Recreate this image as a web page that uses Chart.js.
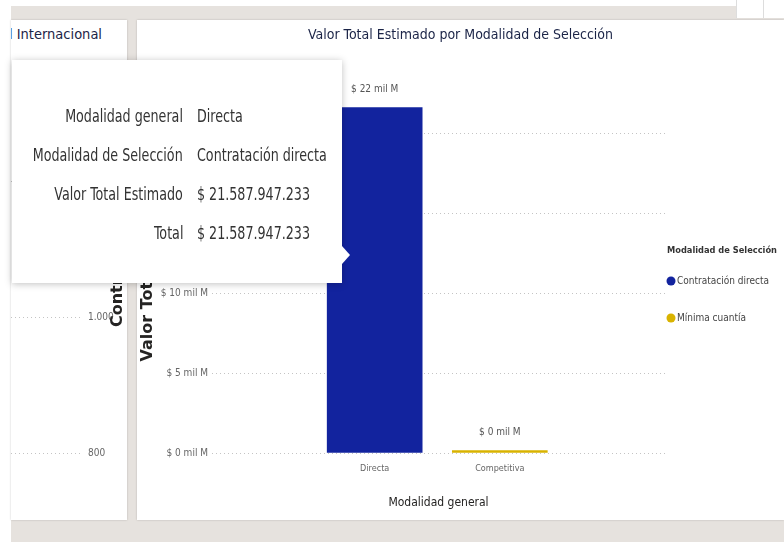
<!DOCTYPE html>
<html>
<head>
<meta charset="utf-8">
<script src="https://cdn.jsdelivr.net/npm/chart.js@4.4.1/dist/chart.umd.min.js"></script>
<style>
  body { margin: 0; width: 784px; height: 558px; background: #fff; position: relative; overflow: hidden;
         font-family: 'Liberation Sans Narrow', 'DejaVu Sans Condensed', sans-serif; }
  .band { position: absolute; left: 11px; top: 6px; width: 773px; height: 536px; background: #e6e2de; }
  .corner { position: absolute; left: 736px; top: 0; width: 48px; height: 18px; background: #fff; border-left: 1px solid #ddd; }
  .corner:after { content: ''; position: absolute; left: 26px; top: 0; width: 1px; height: 18px; background: #ddd; }
  .panel { position: absolute; background: #fff; box-shadow: 0 0 2px rgba(0,0,0,0.2); }
  #leftPanel { left: 11px; top: 20px; width: 116px; height: 500px; overflow: hidden; }
  #mainPanel { left: 137px; top: 20px; width: 647px; height: 500px; }
  #leftTitle { position: absolute; right: 25px; top: 6px; white-space: nowrap; font-size: 14.5px; color: #1b2447; }
  canvas { position: absolute; left: 0; top: 0; }
  #tip { position: absolute; left: 12px; top: 60px; width: 330px; height: 223px; background: #fff;
         box-shadow: 0 1px 7px rgba(0,0,0,0.25); color: #333; font-size: 17px; }
  #tip:after { content: ''; position: absolute; left: 330px; top: 186px; border-left: 8px solid #fff;
               border-top: 9px solid transparent; border-bottom: 9px solid transparent; }
  #tip .row { position: absolute; left: 0; width: 330px; height: 39px; line-height: 39px; white-space: nowrap; }
  #tip .k { position: absolute; right: 159px; transform: scaleX(0.83); transform-origin: right center; }
  #tip .v { position: absolute; left: 185px; transform: scaleX(0.83); transform-origin: left center; }
</style>
</head>
<body>
<div class="band"></div>
<div class="corner"></div>
<div class="panel" id="leftPanel">
  <div id="leftTitle"></div>
  <canvas id="leftChart" width="116" height="500"></canvas>
</div>
<div class="panel" id="mainPanel">
  <canvas id="mainChart" width="647" height="500"></canvas>
</div>
<div id="tip"></div>
<script>
// valores en miles de millones de pesos (mil M)
const categories = ['Directa', 'Competitiva'];
const seriesNames = ['Contratación directa', 'Mínima cuantía'];
const contratacionDirecta = [21.587947233, null];
const minimaCuantia = [null, 0.15];
const yTicks = [0, 5, 10, 15, 20];
const seriesColors = ['#12239E', '#D9B300'];

const chartTitle = 'Valor Total Estimado por Modalidad de Selección';
const xTitle = 'Modalidad general';
const yTitle = 'Valor Total Estimado';
const legendTitle = 'Modalidad de Selección';
const tooltipFields = ['Modalidad general', 'Modalidad de Selección', 'Valor Total Estimado', 'Total'];

// panel vecino (recortado)
const leftTitleText = 'Contratos Nacional Internacional';
const leftAxisName = 'Contratos';
const leftTicks = [800, 1000, 1200];

const narrow = "'Liberation Sans Narrow', 'DejaVu Sans Condensed', sans-serif";
Chart.defaults.font.family = narrow;
Chart.defaults.color = '#666';

const thousands = n => Math.round(n).toString().replace(/\B(?=(\d{3})+(?!\d))/g, '.');
const totals = categories.map((c, i) => (contratacionDirecta[i] || 0) + (minimaCuantia[i] || 0));

const valueLabels = {
  id: 'valueLabels',
  afterDatasetsDraw(chart) {
    const {ctx, scales: {x, y}} = chart;
    ctx.save();
    ctx.font = '10px ' + narrow;
    ctx.fillStyle = '#555';
    ctx.textAlign = 'center';
    ctx.textBaseline = 'middle';
    totals.forEach((t, i) => {
      ctx.fillText('$ ' + Math.round(t) + ' mil M', x.getPixelForValue(i), y.getPixelForValue(t) - 18);
    });
    ctx.restore();
  }
};

const sideLegend = {
  id: 'sideLegend',
  afterDraw(chart) {
    const {ctx, chartArea} = chart;
    const left = chartArea.right + 2;
    const top = (chartArea.top + chartArea.bottom) / 2 - 18;
    ctx.save();
    ctx.textAlign = 'left';
    ctx.textBaseline = 'middle';
    ctx.fillStyle = '#333';
    ctx.font = 'bold 9.2px ' + narrow;
    ctx.fillText(legendTitle, left, top);
    ctx.font = '10px ' + narrow;
    chart.data.datasets.forEach((d, i) => {
      const yy = top + 30 + i * 37;
      ctx.fillStyle = d.backgroundColor;
      ctx.beginPath();
      ctx.arc(left + 4, yy, 4.5, 0, Math.PI * 2);
      ctx.fill();
      ctx.fillStyle = '#444';
      ctx.fillText(d.label, left + 10, yy);
    });
    ctx.restore();
  }
};

const toPoints = arr => arr.map((v, i) => ({x: i, y: v})).filter(p => p.y !== null);

new Chart(document.getElementById('mainChart'), {
  type: 'bar',
  data: {
    datasets: [
      {label: seriesNames[0], data: toPoints(contratacionDirecta), backgroundColor: seriesColors[0], barThickness: 95},
      {label: seriesNames[1], data: toPoints(minimaCuantia), backgroundColor: seriesColors[1], barThickness: 95}
    ]
  },
  options: {
    responsive: false,
    animation: false,
    events: [],
    layout: {padding: 0},
    plugins: {
      legend: {display: false},
      tooltip: {enabled: false},
      title: {
        display: true, text: chartTitle, color: '#1b2447',
        font: {size: 14, weight: 'normal'},
        padding: {top: 6.6, bottom: 41.6}
      }
    },
    scales: {
      x: {
        type: 'linear', stacked: true, offset: false, min: -1.3, max: 2.32,
        afterBuildTicks: s => { s.ticks = categories.map((c, i) => ({value: i})); },
        ticks: {callback: v => categories[v], color: '#666', font: {size: 9}, padding: 10, autoSkip: false, maxRotation: 0},
        grid: {display: false, drawTicks: false},
        border: {display: false},
        title: {display: true, text: xTitle, color: '#252423', font: {size: 12}, padding: {top: 0, bottom: 10}},
        afterFit: s => { s.height = 67; }
      },
      y: {
        stacked: true, min: 0, max: 23,
        afterBuildTicks: s => { s.ticks = yTicks.map(v => ({value: v})); },
        ticks: {callback: v => '$ ' + v + ' mil M', color: '#666', font: {size: 10}, padding: 4},
        grid: {color: '#c4c4c4', lineWidth: 1, drawTicks: false},
        border: {display: false, dash: [1, 3]},
        title: {display: true, text: yTitle, color: '#252423', font: {family: 'DejaVu Sans', weight: 'bold', size: 16}, padding: {top: 1, bottom: 0}},
        afterFit: s => { s.width = 75; }
      },
      yLegend: {
        axis: 'y', position: 'right', display: true,
        grid: {display: false, drawTicks: false},
        border: {display: false},
        ticks: {display: false},
        afterFit: s => { s.width = 119; }
      }
    }
  },
  plugins: [valueLabels, sideLegend]
});

const leftAxisTitle = {
  id: 'leftAxisTitle',
  afterDraw(chart) {
    const {ctx, chartArea} = chart;
    ctx.save();
    ctx.translate(107, chartArea.bottom - 126);
    ctx.rotate(-Math.PI / 2);
    ctx.font = "bold 16px 'DejaVu Sans'";
    ctx.fillStyle = '#252423';
    ctx.textAlign = 'left';
    ctx.textBaseline = 'middle';
    ctx.fillText(leftAxisName, 0, 0);
    ctx.restore();
  }
};

document.getElementById('leftTitle').textContent = leftTitleText;

new Chart(document.getElementById('leftChart'), {
  type: 'bar',
  data: {labels: [], datasets: []},
  options: {
    responsive: false,
    animation: false,
    events: [],
    layout: {padding: {top: 161, bottom: 67, left: 0, right: 0}},
    plugins: {legend: {display: false}, tooltip: {enabled: false}},
    scales: {
      x: {display: false},
      y: {
        position: 'right', min: 800, max: 1200,
        afterBuildTicks: s => { s.ticks = leftTicks.map(v => ({value: v})); },
        ticks: {callback: v => thousands(v), color: '#666', font: {size: 10}, padding: 7},
        grid: {color: '#c4c4c4', lineWidth: 1, drawTicks: false},
        border: {display: false, dash: [1, 3]},
        afterFit: s => { s.width = 46; }
      }
    }
  },
  plugins: [leftAxisTitle]
});

// tooltip fijo sobre la barra "Directa"
const tipValues = [categories[0], seriesNames[0], '$ ' + thousands(contratacionDirecta[0] * 1e9), '$ ' + thousands(totals[0] * 1e9)];
const tip = document.getElementById('tip');
tooltipFields.forEach((k, i) => {
  const row = document.createElement('div');
  row.className = 'row';
  row.style.top = (36.5 + i * 39) + 'px';
  row.innerHTML = '<span class="k"></span><span class="v"></span>';
  row.querySelector('.k').textContent = k;
  row.querySelector('.v').textContent = tipValues[i];
  tip.appendChild(row);
});
</script>
</body>
</html>
